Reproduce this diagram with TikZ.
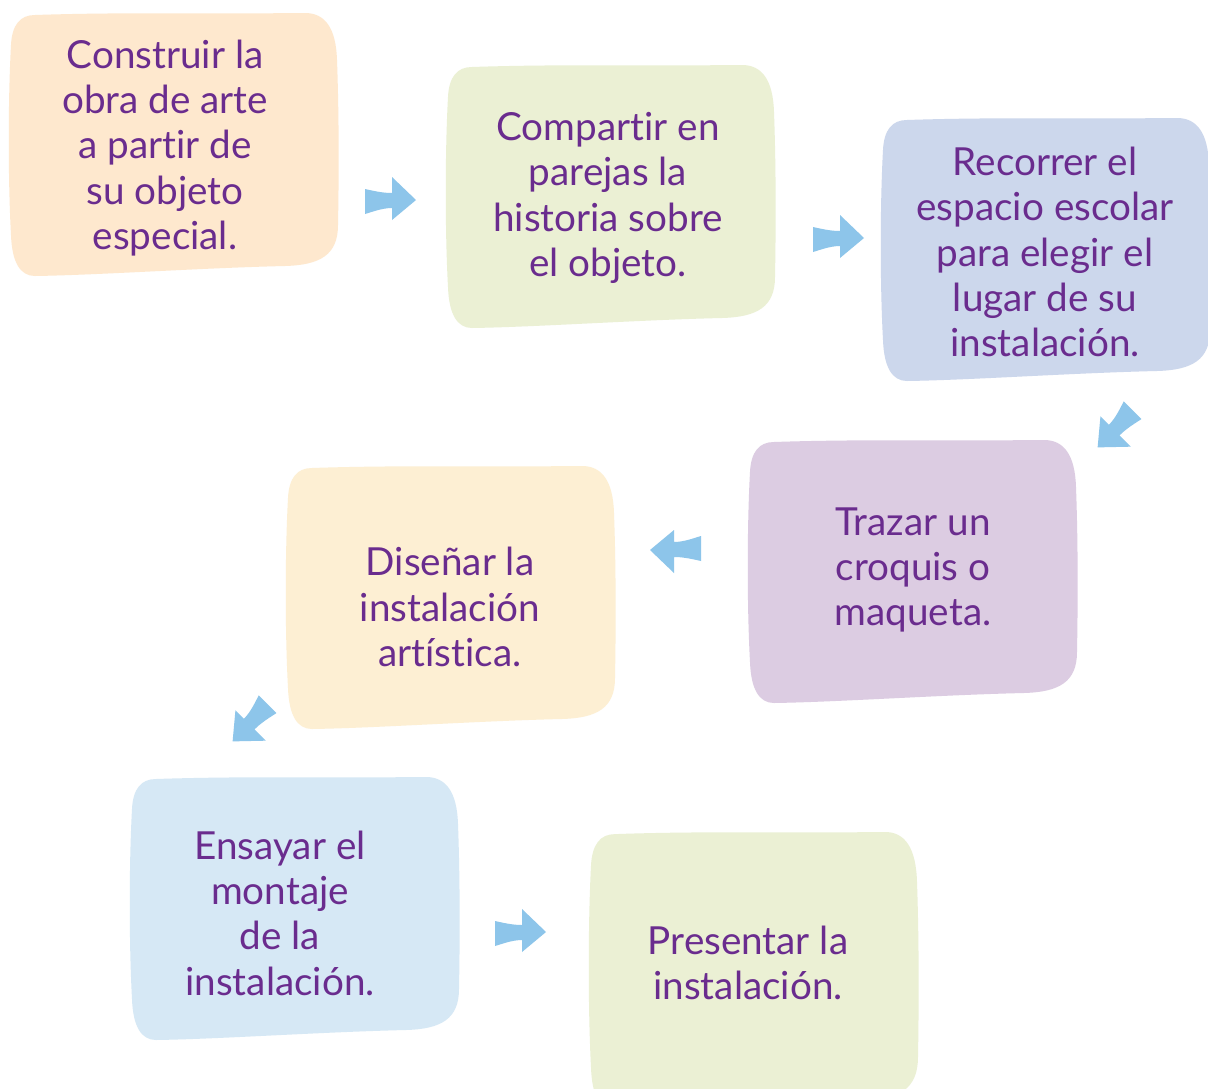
\documentclass[tikz,border=0pt]{standalone}
\usepackage{fontspec}
\setmainfont{Lato}[RawFeature={-liga;-calt;-dlig;-clig}]
\definecolor{boxorange}{HTML}{FEE8CE}
\definecolor{boxgreen}{HTML}{EBF0D4}
\definecolor{boxblue}{HTML}{CCD7EC}
\definecolor{boxpurple}{HTML}{DCCCE2}
\definecolor{boxyellow}{HTML}{FDEFD3}
\definecolor{boxlight}{HTML}{D6E8F5}
\definecolor{arrowblue}{HTML}{8DC5EA}
\definecolor{txtpurple}{HTML}{6A2C8E}
\begin{document}
\begin{tikzpicture}[x=0.02cm,y=-0.02cm,
  blob/.pic={\fill[pic actions] (25,2) .. controls (110,-1) and (210,1) .. (295,0)
     .. controls (315,0) and (326,15) .. (327,47)
     .. controls (329,100) and (329,160) .. (328,212)
     .. controls (328,242) and (310,252) .. (275,253)
     .. controls (190,255) and (90,262) .. (25,263)
     .. controls (10,263) and (2,249) .. (1,222)
     .. controls (-2,167) and (-2,87) .. (1,32)
     .. controls (2,12) and (10,2) .. (25,2) -- cycle;},
  barrow/.pic={\fill[arrowblue] (-25,-11) .. controls (-12,-8) and (-5,-7) .. (2,-7)
     -- (2,-23) -- (26,0) -- (2,20) -- (2,8)
     .. controls (-8,8) and (-18,12) .. (-25,14) -- cycle;},
  txt/.style={font=\fontsize{22}{25.8}\selectfont, text=txtpurple, align=center, inner sep=0pt}
]
\useasboundingbox (0,0) rectangle (1208,1089);
\fill[white] (0,0) rectangle (1208,1089);
\clip (0,0) rectangle (1208,1089);
% boxes
\pic[fill=boxorange] at (10,13) {blob};
\pic[fill=boxgreen] at (447,65) {blob};
\pic[fill=boxblue] at (882,118) {blob};
\pic[fill=boxpurple] at (749,440) {blob};
\pic[fill=boxyellow] at (287,466) {blob};
\pic[fill=boxlight] at (131,777) {blob};
\pic[fill=boxgreen, yscale=1.06] at (590,832) {blob};
% texts
\node[txt] (b1) at (165,148) {Construir la\\obra de arte\\a partir de\\su objeto\\especial.};
\node[txt] (b2) at (608,198) {Compartir en\\parejas la\\historia sobre\\el objeto.};
\node[txt] (b3) at (1045,252) {Recorrer el\\espacio escolar\\para elegir el\\lugar de su\\instalación.};
\node[txt] (b4) at (913,570) {Trazar un\\croquis o\\maqueta.};
\node[txt] (b5) at (450,607) {Diseñar la\\instalación\\artística.};
\node[txt] (b6) at (280,913) {Ensayar el\\montaje\\de la\\instalación.};
\node[txt] (b7) at (748,963) {Presentar la\\instalación.};
% arrows
\coordinate (a1) at (390,200);
\coordinate (a2) at (838,238);
\coordinate (a3) at (1116,429);
\coordinate (a4) at (676,550);
\coordinate (a5) at (251,723);
\coordinate (a6) at (520,932);
\pic at (a1) {barrow};
\pic at (a2) {barrow};
\pic[rotate=225] at (a3) {barrow};
\pic[rotate=180] at (a4) {barrow};
\pic[rotate=225] at (a5) {barrow};
\pic at (a6) {barrow};
\end{tikzpicture}
\end{document}
